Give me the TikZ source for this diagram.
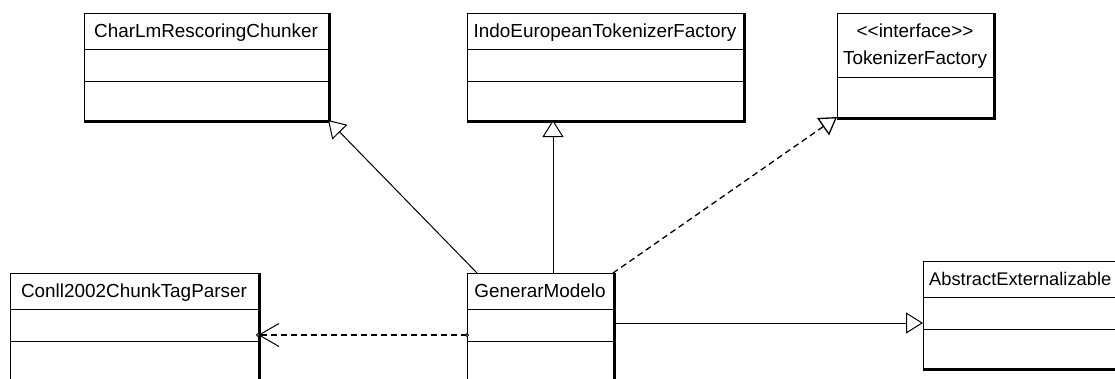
\documentclass[tikz,border=0pt]{standalone}
\usepackage{fontspec}
\newfontfamily\umlfont{Liberation Sans}
\usetikzlibrary{arrows.meta}

\tikzset{
  cls/.style={draw, line width=1pt, inner sep=0pt, outer sep=0pt, anchor=north west, fill=white},
  shade edge/.style={line width=3pt, line join=miter},
  divider/.style={line width=1pt},
  title/.style={font=\umlfont\fontsize{18.9}{22}\selectfont, inner sep=0pt, anchor=base},
  gen/.style={line width=1pt, -{Triangle[open, length=17pt, width=21pt, fill=white]}},
  realize/.style={gen, line width=1.3pt, dash pattern=on 6pt off 4pt},
  dep/.style={line width=1.3pt, dash pattern=on 6pt off 4pt, -{Straight Barb[length=20pt, width=23pt, line width=1pt]}},
  port/.style={line width=0.8pt, fill=white},
}

% heavy right and bottom edge of a class box
\newcommand\boxshade[1]{\draw[shade edge] ([yshift=-1.5pt]#1.south west) -| ([xshift=1.5pt]#1.north east);}
% compartment line at a given depth below the top edge
\newcommand\compartment[2]{\draw[divider] ([yshift=-#2]#1.north west) -- ([yshift=-#2]#1.north east);}

\begin{document}
\begin{tikzpicture}[x=1pt, y=-1pt]
  \clip (0,0) rectangle (1115,378);
  \fill[white] (0,0) rectangle (1115,378);

  % class boxes
  \node[cls, minimum width=244pt, minimum height=107pt] (char) at (84,13) {};
  \node[cls, minimum width=276pt, minimum height=107pt] (indo) at (467,13) {};
  \node[cls, minimum width=156pt, minimum height=104pt] (tok) at (837,13) {};
  \node[cls, minimum width=248pt, minimum height=130pt] (conll) at (10,273) {};
  \node[cls, minimum width=146pt, minimum height=130pt] (genm) at (467,273) {};
  \node[cls, minimum width=220pt, minimum height=107pt] (abs) at (923,261) {};

  \foreach \b in {char, indo, tok, conll, genm, abs} { \boxshade{\b} }

  \compartment{char}{36pt}  \compartment{char}{68pt}
  \compartment{indo}{36pt}  \compartment{indo}{68pt}
  \compartment{tok}{64pt}
  \compartment{conll}{36pt} \compartment{conll}{68pt}
  \compartment{genm}{36pt}  \compartment{genm}{68pt}
  \compartment{abs}{36pt}   \compartment{abs}{68pt}

  % class names
  \node[title] (char-t) at ([yshift=-24pt]char.north) {CharLmRescoringChunker};
  \node[title] (indo-t) at ([yshift=-24pt]indo.north) {IndoEuropeanTokenizerFactory};
  \node[title] (tok-s) at ([yshift=-24pt]tok.north) {<\kern0pt<interface>\kern0pt>};
  \node[title] (tok-t) at ([yshift=-51pt]tok.north) {TokenizerFactory};
  \node[title] (conll-t) at ([yshift=-24pt]conll.north) {Conll2002ChunkTagParser};
  \node[title] (genm-t) at ([yshift=-24pt]genm.north) {GenerarModelo};
  \node[title, anchor=base west, font=\umlfont\fontsize{18.3}{22}\selectfont] (abs-t)
    at ([xshift=6pt, yshift=-24pt]abs.north west) {AbstractExternalizable};

  % generalizations and realization
  \draw[gen] ([xshift=10pt]genm.north west) -- (char.south east);
  \draw[gen] ([xshift=86pt]genm.north west) -- ([xshift=86pt]indo.south west);
  \draw[realize] (genm.north east) -- (tok.south west);
  \draw[gen] ([yshift=-50pt]genm.north east) -- ([yshift=-62pt]abs.north west);

  % dependency
  \coordinate (dep-s) at ([yshift=-62pt]genm.north west);
  \coordinate (dep-e) at ([yshift=-62pt]conll.north east);
  \draw[dep] (dep-s) -- (dep-e);
  \draw[port] (dep-s) circle (1.5pt);
  \draw[port] (dep-e) circle (1.5pt);
\end{tikzpicture}
\end{document}
